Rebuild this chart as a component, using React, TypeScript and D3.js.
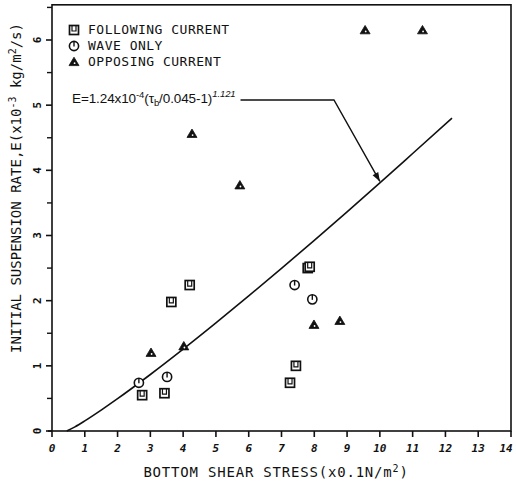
import React from "react";
import * as d3 from "d3";

const W = 516;
const H = 481;

// Data
const followingX = [4.2, 3.64, 2.75, 3.43, 7.8, 7.86, 7.44, 7.26];
const followingE = [2.24, 1.98, 0.55, 0.58, 2.5, 2.52, 1.0, 0.74];
const waveX = [2.65, 3.51, 7.4, 7.94];
const waveE = [0.74, 0.83, 2.24, 2.02];
const opposingX = [3.02, 4.02, 4.27, 5.73, 7.99, 8.78, 9.55, 11.3];
const opposingE = [1.2, 1.3, 4.56, 3.77, 1.63, 1.69, 6.15, 6.15];
const curveX = [0.45, 0.7, 1, 1.5, 2, 3, 4, 5, 6, 7, 8, 9, 10, 11, 12.2];
const curveE = [0, 0.064, 0.155, 0.321, 0.496, 0.867, 1.256, 1.659, 2.073, 2.495, 2.926, 3.364, 3.808, 4.258, 4.8];
const xTicks = [0, 1, 2, 3, 4, 5, 6, 7, 8, 9, 10, 11, 12, 13, 14];
const yTicks = [0, 1, 2, 3, 4, 5, 6];
const yMinorTicks = [0.5, 1.5, 2.5, 3.5, 4.5, 5.5, 6.5];
const legendLabels = ["FOLLOWING CURRENT", "WAVE ONLY", "OPPOSING CURRENT"];
const leaderX = [5.75, 8.6, 10];
const leaderE = [5.08, 5.08, 3.83];

const x = d3.scaleLinear().domain([0, 14]).range([52, 511]);
const y = d3.scaleLinear().domain([0, 6]).range([431, 40]);
const yTop = 6.54;

const mono = "'DejaVu Sans Mono', 'Liberation Mono', monospace";
const sans = "'Liberation Sans', Arial, sans-serif";

function Square({ cx, cy }: { cx: number; cy: number }) {
  return (
    <g transform={`translate(${cx},${cy})`}>
      <rect x={-4.5} y={-4.5} width={9} height={9} fill="#fff" stroke="#111" strokeWidth={1.7} />
      <path d="M-2,-4.5 V1 H2 V-4.5" fill="none" stroke="#111" strokeWidth={1.2} />
    </g>
  );
}
function Circ({ cx, cy }: { cx: number; cy: number }) {
  return (
    <g transform={`translate(${cx},${cy})`}>
      <circle r={4.6} fill="#fff" stroke="#111" strokeWidth={1.6} />
      <line x1={0} y1={-4.6} x2={0} y2={0.5} stroke="#111" strokeWidth={1.4} />
    </g>
  );
}
function Tri({ cx, cy }: { cx: number; cy: number }) {
  return (
    <g transform={`translate(${cx},${cy})`}>
      <path d="M0,-4.8 L5,3.6 L-5,3.6 Z" fill="#111" stroke="#111" strokeWidth={0.8} strokeLinejoin="round" />
      <circle cx={0.6} cy={1.2} r={0.9} fill="#fff" />
    </g>
  );
}

export default function App() {
  const line = d3
    .line<number>()
    .x((_, i) => x(curveX[i]))
    .y((_, i) => y(curveE[i]))
    .curve(d3.curveMonotoneX);
  const curvePath = line(curveX) || "";

  const leaderPts = leaderX.map((v, i) => [x(v), y(leaderE[i])] as [number, number]);
  const leaderPath = d3.line()(leaderPts) || "";
  const [p1, p2] = [leaderPts[1], leaderPts[2]];
  const ang = Math.atan2(p2[1] - p1[1], p2[0] - p1[0]);
  const ah = 9;
  const aw = 3.2;
  const bx = p2[0] - ah * Math.cos(ang);
  const by = p2[1] - ah * Math.sin(ang);
  const arrow = `M${p2[0]},${p2[1]} L${bx + aw * Math.sin(ang)},${by - aw * Math.cos(ang)} L${bx - aw * Math.sin(ang)},${by + aw * Math.cos(ang)} Z`;

  const legendY = [34, 50, 66];

  return (
    <svg width={W} height={H} style={{ position: "absolute", left: 0, top: 0, background: "#fff" }}>
      {/* frame */}
      <rect x={x(0)} y={y(yTop)} width={x(14) - x(0)} height={y(0) - y(yTop)} fill="none" stroke="#111" strokeWidth={1.6} />
      <line x1={x(0) - 4} x2={x(0)} y1={y(0)} y2={y(0)} stroke="#111" strokeWidth={1.6} />

      {/* x ticks */}
      {xTicks.map((t) => (
        <g key={"xt" + t}>
          <line x1={x(t)} x2={x(t)} y1={y(0)} y2={y(0) + 6} stroke="#111" strokeWidth={1.6} />
          <text
            x={Math.min(x(t), 506)}
            y={452}
            textAnchor="middle"
            fontFamily={mono}
            fontSize={11}
            fontStyle="italic"
            fontWeight="bold"
            fill="#111"
          >
            {t}
          </text>
        </g>
      ))}
      {/* y ticks */}
      {yTicks.map((t) => (
        <g key={"yt" + t}>
          <line x1={x(0) - 6} x2={x(0)} y1={y(t)} y2={y(t)} stroke="#111" strokeWidth={1.6} />
          <text
            transform={`translate(37,${y(t)}) rotate(-90)`}
            textAnchor="middle"
            dominantBaseline="central"
            fontFamily={mono}
            fontSize={11}
            fontWeight="bold"
            fill="#111"
          >
            {t}
          </text>
        </g>
      ))}
      {yMinorTicks.map((t) => (
        <line key={"ym" + t} x1={x(0) - 5} x2={x(0)} y1={y(t)} y2={y(t)} stroke="#111" strokeWidth={1.4} />
      ))}

      {/* axis titles */}
      <text x={276} y={477} textAnchor="middle" fontFamily={mono} fontSize={14} letterSpacing={0.8} fill="#111">
        BOTTOM SHEAR STRESS(x0.1N/m<tspan dy={-5} fontSize={10}>2</tspan>
        <tspan dy={5}>)</tspan>
      </text>
      <text transform="translate(21,188) rotate(-90)" textAnchor="middle" fontFamily={mono} fontSize={14} fill="#111">
        INITIAL SUSPENSION RATE,E(x10<tspan dy={-5} fontSize={10}>-3</tspan>
        <tspan dy={5}> kg/m</tspan>
        <tspan dy={-5} fontSize={10}>2</tspan>
        <tspan dy={5}>/s)</tspan>
      </text>

      {/* curve */}
      <path d={curvePath} fill="none" stroke="#111" strokeWidth={1.6} />

      {/* leader + equation */}
      <path d={leaderPath} fill="none" stroke="#111" strokeWidth={1.4} />
      <path d={arrow} fill="#111" />
      <text x={x(0.61)} y={y(5.03)} fontFamily={sans} fontSize={13.5} fill="#111" letterSpacing={-0.1}>
        E=1.24x10<tspan dy={-5} fontSize={9.5}>-4</tspan>
        <tspan dy={5}>(τ</tspan>
        <tspan dy={3} fontSize={9.5}>b</tspan>
        <tspan dy={-3}>/0.045-1)</tspan>
        <tspan dy={-6} fontSize={9.5} fontStyle="italic">1.121</tspan>
      </text>

      {/* legend */}
      <Square cx={74} cy={legendY[0] - 4} />
      <Circ cx={74} cy={legendY[1] - 4} />
      <Tri cx={74} cy={legendY[2] - 4} />
      {legendLabels.map((l, i) => (
        <text key={l} x={88} y={legendY[i]} fontFamily={mono} fontSize={13} letterSpacing={0.5} fill="#111">
          {l}
        </text>
      ))}

      {/* data */}
      {followingX.map((v, i) => (
        <Square key={"f" + i} cx={x(v)} cy={y(followingE[i])} />
      ))}
      {waveX.map((v, i) => (
        <Circ key={"w" + i} cx={x(v)} cy={y(waveE[i])} />
      ))}
      {opposingX.map((v, i) => (
        <Tri key={"o" + i} cx={x(v)} cy={y(opposingE[i])} />
      ))}
    </svg>
  );
}
